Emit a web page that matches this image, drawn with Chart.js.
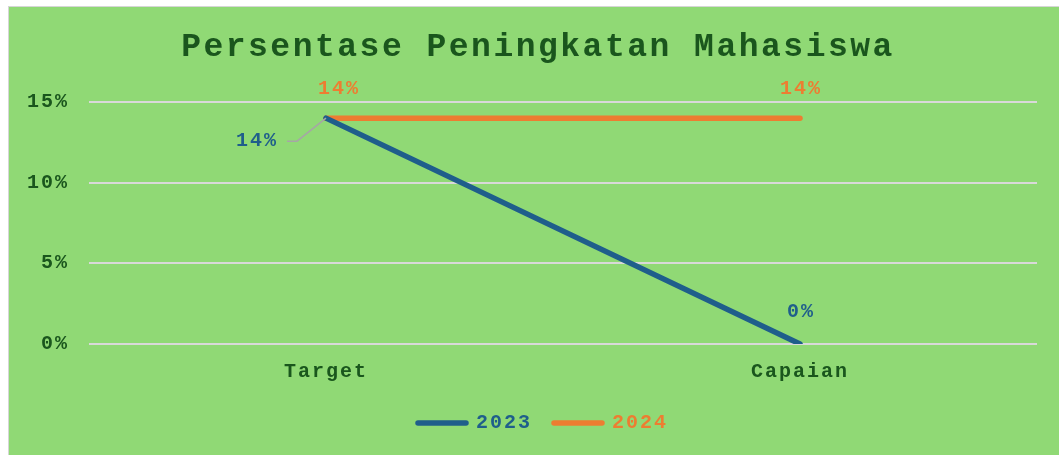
<!DOCTYPE html>
<html>
<head>
<meta charset="utf-8">
<script src="https://cdn.jsdelivr.net/npm/chart.js@4.4.1/dist/chart.umd.min.js"></script>
<style>
  html, body { margin: 0; padding: 0; background: #fff; }
  #box {
    position: absolute; left: 8px; top: 6px;
    width: 1050px; height: 448px;
    background: #90d975;
    border-left: 1px solid #d6d6d6; border-top: 1px solid #d6d6d6;
  }
  canvas { display: block; }
</style>
</head>
<body>
<div id="box"><canvas id="chart" width="1050" height="448"></canvas></div>
<script>
// data
const categories = ['Target', 'Capaian'];
const seriesNames = ['2023', '2024'];
const values2023 = [14, 0];
const values2024 = [14, 14];
const yTickStep = 5;
const yMax = 15;

const titleText = 'Persentase Peningkatan Mahasiswa';
const FONT = "'Liberation Mono', 'Courier New', monospace";
const darkGreen = '#1a561d';
const blue = '#1f5e8b';
const orange = '#ed7d31';

// letter spacing for the wide Courier look
const spacing = {
	id: 'spacing',
	beforeUpdate(chart) { chart.ctx.letterSpacing = '2px'; },
	beforeDraw(chart) { chart.ctx.letterSpacing = '2px'; },
	afterLayout(chart) {
		// legend sits a bit right of centre in the original
		chart.legend.left += 20;
		chart.legend.right += 20;
	}
};

// title + data labels
const extras = {
	id: 'extras',
	afterDraw(chart) {
		const ctx = chart.ctx;
		ctx.save();
		ctx.letterSpacing = '2.5px';
		ctx.font = 'bold 33px ' + FONT;
		ctx.fillStyle = darkGreen;
		ctx.textAlign = 'center';
		ctx.textBaseline = 'middle';
		ctx.fillText(titleText, chart.width / 2 + 4, 41);

		ctx.letterSpacing = '2px';
		ctx.font = 'bold 20px ' + FONT;

		// 2024 labels above the line
		const m24 = chart.getDatasetMeta(1);
		m24.data.forEach(function(pt, i) {
			ctx.fillStyle = orange;
			const dx = i === 0 ? 13 : 1;
			ctx.fillText(values2024[i] + '%', pt.x + dx, pt.y - 29);
		});

		// 2023 labels
		const m23 = chart.getDatasetMeta(0);
		const p0 = m23.data[0];
		ctx.strokeStyle = '#a6a6a6';
		ctx.lineWidth = 1.5;
		ctx.beginPath();
		ctx.moveTo(p0.x - 39, p0.y + 23);
		ctx.lineTo(p0.x - 29, p0.y + 23);
		ctx.lineTo(p0.x, p0.y);
		ctx.stroke();
		ctx.fillStyle = blue;
		ctx.fillText(values2023[0] + '%', p0.x - 69, p0.y + 23);
		const p1 = m23.data[1];
		ctx.fillText(values2023[1] + '%', p1.x + 1, p1.y - 32);
		ctx.restore();
	}
};

const data = {
	labels: categories,
	datasets: [
		{
			label: seriesNames[0],
			data: values2023,
			borderColor: blue,
			backgroundColor: blue,
			borderWidth: 5.5,
			borderCapStyle: 'round',
			pointRadius: 0,
			tension: 0
		},
		{
			label: seriesNames[1],
			data: values2024,
			borderColor: orange,
			backgroundColor: orange,
			borderWidth: 5.5,
			borderCapStyle: 'round',
			pointRadius: 0,
			tension: 0
		}
	]
};

const config = {
	type: 'line',
	data: data,
	options: {
		responsive: false,
		animation: false,
		layout: { padding: { top: 95, right: 22, bottom: 12, left: 0 } },
		plugins: {
			title: { display: false },
			tooltip: { enabled: false },
			legend: {
				position: 'bottom',
				labels: {
					usePointStyle: true,
					pointStyle: 'line',
					pointStyleWidth: 48,
					boxHeight: 18,
					padding: 22,
					font: { family: FONT, size: 20, weight: 'bold' },
					generateLabels: function(chart) {
						const items = Chart.defaults.plugins.legend.labels.generateLabels(chart);
						items.forEach(function(it) {
							it.fontColor = it.strokeStyle;
							it.lineCap = 'round';
						});
						return items;
					}
				}
			}
		},
		scales: {
			x: {
				offset: true,
				grid: { display: false, drawTicks: false },
				border: { display: false },
				ticks: {
					color: darkGreen,
					padding: 16,
					font: { family: FONT, size: 20, weight: 'bold' }
				},
				afterFit: function(scale) { scale.height = 47; }
			},
			y: {
				min: 0,
				max: yMax,
				grid: { color: '#d9d9d9', lineWidth: 2, drawTicks: false },
				border: { display: false },
				ticks: {
					stepSize: yTickStep,
					color: darkGreen,
					padding: 20,
					font: { family: FONT, size: 20, weight: 'bold' },
					callback: function(v) { return v + '%'; }
				},
				afterFit: function(scale) { scale.width = 80; }
			}
		}
	},
	plugins: [spacing, extras]
};

let ctx = document.getElementById('chart').getContext('2d');
let chart = new Chart(ctx, config);
</script>
</body>
</html>
